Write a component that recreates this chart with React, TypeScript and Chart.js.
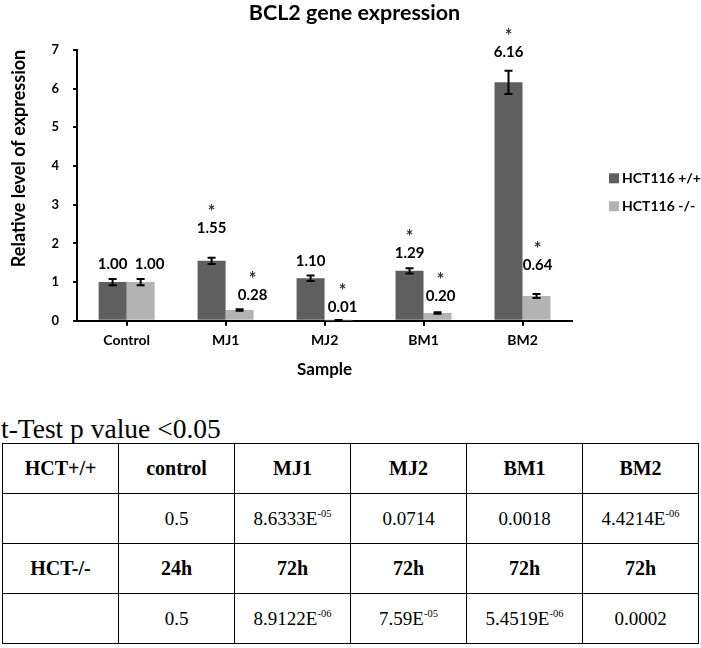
import React, { useEffect, useRef } from "react";
import { Chart, registerables } from "chart.js";

Chart.register(...registerables);

// ---- data ----
const categories = ["Control", "MJ1", "MJ2", "BM1", "BM2"];
const seriesNames = ["HCT116 +/+", "HCT116 -/-"];
const valuesPlus = [1.0, 1.55, 1.1, 1.29, 6.16];
const valuesMinus = [1.0, 0.28, 0.01, 0.2, 0.64];
const errPlus = [0.08, 0.08, 0.07, 0.07, 0.3];
const errMinus = [0.08, 0.02, 0.01, 0.02, 0.05];
const sigPlus = [false, true, false, true, true];
const sigMinus = [false, true, true, true, true];
const yTicks = [0, 1, 2, 3, 4, 5, 6, 7];

const tableHeader = ["HCT+/+", "control", "MJ1", "MJ2", "BM1", "BM2"];
const pValuesPlus = ["0.5", "8.6333E-05", "0.0714", "0.0018", "4.4214E-06"];
const tableTimes = ["HCT-/-", "24h", "72h", "72h", "72h", "72h"];
const pValuesMinus = ["0.5", "8.9122E-06", "7.59E-05", "5.4519E-06", "0.0002"];

const COLORS = ["#5f5f5f", "#b3b3b3"];
const FONT = "Lato, 'Open Sans', sans-serif";

const annotPlugin = {
  id: "annot",
  afterDatasetsDraw(chart: any, _args: any, opts: any) {
    const ctx = chart.ctx;
    const ys = chart.scales.y;
    const errs = [errPlus, errMinus];
    const sigs = [sigPlus, sigMinus];
    chart.data.datasets.forEach((ds: any, i: number) => {
      const meta = chart.getDatasetMeta(i);
      meta.data.forEach((el: any, j: number) => {
        const v = ds.data[j];
        const e = errs[i][j];
        const x = el.x;
        const yt = ys.getPixelForValue(v + e);
        const yb = ys.getPixelForValue(Math.max(0, v - e));
        ctx.save();
        ctx.strokeStyle = "#000";
        ctx.lineWidth = 2;
        ctx.beginPath();
        ctx.moveTo(x, yt);
        ctx.lineTo(x, yb);
        ctx.moveTo(x - 4, yt);
        ctx.lineTo(x + 4, yt);
        ctx.moveTo(x - 4, yb);
        ctx.lineTo(x + 4, yb);
        ctx.stroke();
        const lx = x + opts.labelDx[i][j];
        const ly = el.y - opts.labelGap[i][j];
        ctx.fillStyle = "#000";
        ctx.textAlign = "center";
        ctx.textBaseline = "middle";
        ctx.font = `bold 15px ${FONT}`;
        ctx.fillText(v.toFixed(2), lx, ly);
        if (sigs[i][j]) {
          ctx.fillStyle = "#333";
          ctx.font = `bold 18px ${FONT}`;
          ctx.fillText("*", lx, ly - 16);
        }
        ctx.restore();
      });
    });
    // legend
    const ca = chart.chartArea;
    const mid = (ca.top + ca.bottom) / 2 + 7;
    chart.data.datasets.forEach((ds: any, i: number) => {
      const yy = mid - 14 + i * 28;
      const xx = ca.right + 37;
      ctx.save();
      ctx.fillStyle = ds.backgroundColor;
      ctx.fillRect(xx, yy - 5, 10, 10);
      ctx.fillStyle = "#000";
      ctx.font = `bold 14px ${FONT}`;
      ctx.textAlign = "left";
      ctx.textBaseline = "middle";
      ctx.fillText(ds.label, xx + 13, yy);
      ctx.restore();
    });
  },
};

function ChartView() {
  const ref = useRef<HTMLCanvasElement>(null);
  useEffect(() => {
    if (!ref.current) return;
    const chart = new Chart(ref.current, {
      type: "bar",
      data: {
        labels: categories,
        datasets: [
          { label: seriesNames[0], data: valuesPlus, backgroundColor: COLORS[0], categoryPercentage: 0.566, barPercentage: 1.0 },
          { label: seriesNames[1], data: valuesMinus, backgroundColor: COLORS[1], categoryPercentage: 0.566, barPercentage: 1.0 },
        ],
      },
      options: {
        responsive: false,
        animation: false,
        layout: { padding: { left: 8, right: 0, top: 0, bottom: 2 } },
        scales: {
          x: {
            offset: true,
            grid: { display: true, offset: false, drawOnChartArea: false, drawTicks: true, tickLength: 5, color: "#000", lineWidth: 2 },
            border: { display: true, color: "#000", width: 2 },
            ticks: { color: "#000", font: { family: FONT, size: 14, weight: "bold" }, padding: 6 },
            title: { display: true, text: "Sample", color: "#000", font: { family: FONT, size: 17, weight: "bold" }, padding: { top: 5, bottom: 4 } },
          },
          y: {
            min: 0,
            max: 7,
            afterBuildTicks: (axis: any) => {
              axis.ticks = yTicks.map((v) => ({ value: v }));
            },
            grid: { display: true, drawOnChartArea: false, drawTicks: true, tickLength: 4, color: "#000", lineWidth: 2 },
            border: { display: true, color: "#000", width: 2 },
            ticks: { color: "#000", font: { family: FONT, size: 13, weight: "bold" }, padding: 14 },
            title: { display: true, text: "Relative level of expression", align: "end", color: "#000", font: { family: FONT, size: 18, weight: "bold" }, padding: { top: 0, bottom: 8 } },
          },
          legendSpace: {
            type: "linear",
            position: "right",
            display: true,
            grid: { display: false, drawTicks: false },
            border: { display: false },
            ticks: { display: false },
            afterFit: (s: any) => {
              s.width = 129;
            },
          },
        },
        plugins: {
          legend: { display: false },
          tooltip: { enabled: false },
          title: { display: true, text: "BCL2 gene expression", color: "#000", font: { family: FONT, size: 21.5, weight: "bold" }, padding: { top: 0, bottom: 24 } },
          annot: {
            labelGap: [
              [18, 33, 17, 18, 30],
              [18, 15, 13, 17, 31],
            ],
            labelDx: [
              [0, 0, 0, 0, 0],
              [9, 13, 4, 3, 1],
            ],
          },
        } as any,
      } as any,
      plugins: [annotPlugin],
    });
    return () => chart.destroy();
  }, []);
  return <canvas ref={ref} width={701} height={386} style={{ position: "absolute", left: 0, top: 0, width: 701, height: 386 }} />;
}

function PVal({ s }: { s: string }) {
  const m = s.match(/^(.*E)(-\d+)$/);
  if (!m) return <>{s}</>;
  return (
    <>
      {m[1]}
      <span style={{ fontSize: "0.55em", position: "relative", top: "-0.7em" }}>{m[2]}</span>
    </>
  );
}

const cellStyle: React.CSSProperties = {
  border: "1.5px solid #000",
  textAlign: "center",
  height: 49,
  padding: 0,
};

export default function App() {
  const serif = "'Liberation Serif', 'Times New Roman', serif";
  return (
    <div style={{ position: "absolute", left: 0, top: 0, width: 701, height: 648, background: "#fff", overflow: "hidden" }}>
      <ChartView />
      <div style={{ position: "absolute", left: 1, top: 414, fontFamily: serif, fontSize: 27.5, lineHeight: "30px", color: "#000" }}>
        t-Test p value &lt;0.05
      </div>
      <table
        style={{
          position: "absolute",
          left: 2,
          top: 443,
          width: 697,
          borderCollapse: "collapse",
          tableLayout: "fixed",
          fontFamily: serif,
          fontSize: 19,
          color: "#000",
        }}
      >
        <tbody>
          <tr>
            {tableHeader.map((h, i) => (
              <td key={i} style={{ ...cellStyle, fontWeight: "bold", fontSize: 20 }}>{h}</td>
            ))}
          </tr>
          <tr>
            <td style={cellStyle}></td>
            {pValuesPlus.map((p, i) => (
              <td key={i} style={cellStyle}><PVal s={p} /></td>
            ))}
          </tr>
          <tr>
            {tableTimes.map((h, i) => (
              <td key={i} style={{ ...cellStyle, fontWeight: "bold", fontSize: 20 }}>{h}</td>
            ))}
          </tr>
          <tr>
            <td style={cellStyle}></td>
            {pValuesMinus.map((p, i) => (
              <td key={i} style={cellStyle}><PVal s={p} /></td>
            ))}
          </tr>
        </tbody>
      </table>
    </div>
  );
}
